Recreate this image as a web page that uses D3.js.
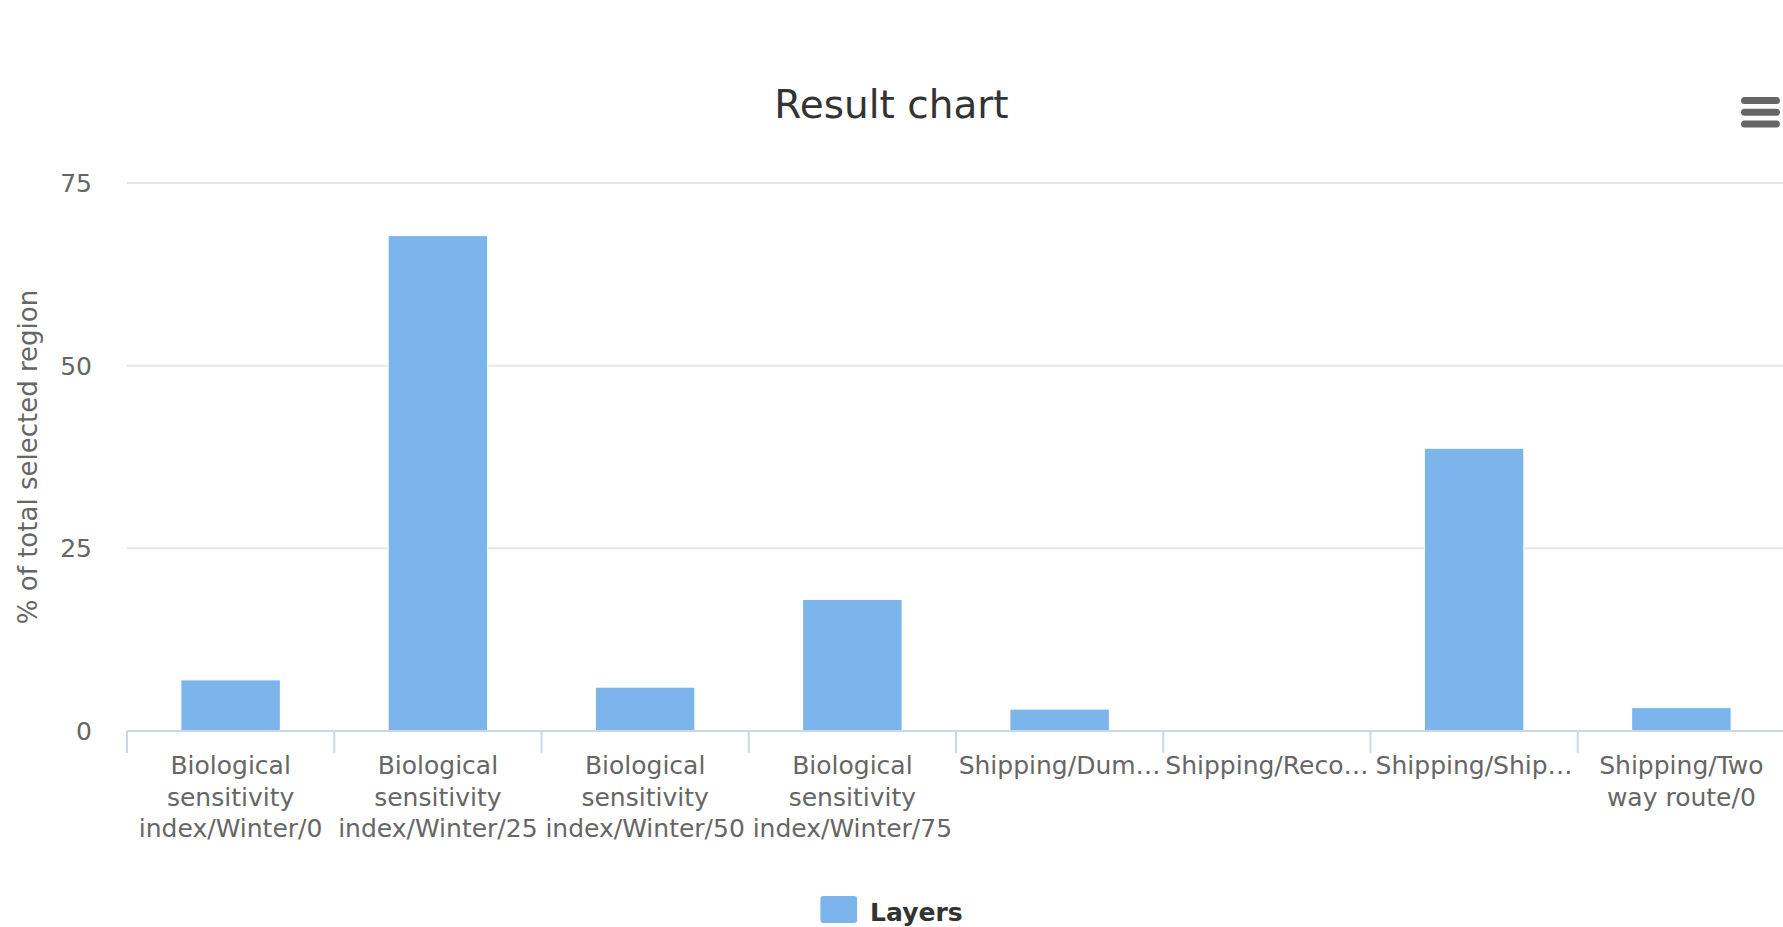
<!DOCTYPE html>
<html>
<head>
<meta charset="utf-8">
<script src="https://cdn.jsdelivr.net/npm/d3@7"></script>
<style>
  body { margin: 0; background: #ffffff; overflow: hidden; }
  text { font-family: "DejaVu Sans", Verdana, sans-serif; }
</style>
</head>
<body>
<svg id="chart" width="1783" height="927"></svg>
<script>
// ---- data ----
const categories = [
  "Biological sensitivity index/Winter/0",
  "Biological sensitivity index/Winter/25",
  "Biological sensitivity index/Winter/50",
  "Biological sensitivity index/Winter/75",
  "Shipping/Dum\u2026",
  "Shipping/Reco\u2026",
  "Shipping/Ship\u2026",
  "Shipping/Two way route/0"
];
const values = [7, 67.8, 6, 18, 3, 0, 38.7, 3.2];
const yTicks = [0, 25, 50, 75];
const seriesName = "Layers";
const chartTitle = "Result chart";
const yAxisTitle = "% of total selected region";

// ---- layout ----
const W = 1783, H = 927;
const plot = { left: 127, right: 1785, top: 183, bottom: 731 };
const barColor = "#7cb5ec";

const svg = d3.select("#chart");

const x = d3.scaleBand()
  .domain(categories)
  .range([plot.left, plot.right])
  .paddingInner(0.52)
  .paddingOuter(0.26);

const y = d3.scaleLinear()
  .domain([0, 75])
  .range([plot.bottom, plot.top]);

// gridlines
svg.append("g").selectAll("line")
  .data(yTicks.filter(d => d !== 0))
  .join("line")
  .attr("x1", plot.left).attr("x2", plot.right)
  .attr("y1", d => y(d)).attr("y2", d => y(d))
  .attr("stroke", "#e6e6e6").attr("stroke-width", 2);

// y tick labels
svg.append("g").selectAll("text")
  .data(yTicks)
  .join("text")
  .attr("x", 92)
  .attr("y", d => y(d) + 9)
  .attr("text-anchor", "end")
  .attr("font-size", 25)
  .attr("fill", "#666666")
  .text(d => d);

// y axis title
svg.append("text")
  .attr("transform", `translate(37,${(plot.top + plot.bottom) / 2}) rotate(-90)`)
  .attr("text-anchor", "middle")
  .attr("font-size", 26)
  .attr("fill", "#666666")
  .text(yAxisTitle);

// bars
svg.append("g").selectAll("rect")
  .data(values)
  .join("rect")
  .attr("x", (d, i) => x(categories[i]))
  .attr("width", x.bandwidth())
  .attr("y", d => y(d))
  .attr("height", d => y(0) - y(d))
  .attr("fill", barColor)
  .attr("stroke", d => d > 0 ? "#ffffff" : "none")
  .attr("stroke-width", 1);

// x axis line
svg.append("line")
  .attr("x1", plot.left).attr("x2", plot.right)
  .attr("y1", y(0)).attr("y2", y(0))
  .attr("stroke", "#ccd6eb").attr("stroke-width", 2);

// x ticks at category boundaries
const step = x.step();
const boundaries = d3.range(categories.length + 1).map(i => plot.left + i * step);
svg.append("g").selectAll("line")
  .data(boundaries)
  .join("line")
  .attr("x1", d => d).attr("x2", d => d)
  .attr("y1", y(0)).attr("y2", y(0) + 22)
  .attr("stroke", "#ccd6eb").attr("stroke-width", 2);

// x labels with wrapping
const labelG = svg.append("g");
categories.forEach((cat, i) => {
  const cx = x(cat) + x.bandwidth() / 2;
  const t = labelG.append("text")
    .attr("text-anchor", "middle")
    .attr("font-size", 25)
    .attr("fill", "#666666");
  const words = cat.split(" ");
  const lines = [];
  let cur = "";
  const probe = labelG.append("text").attr("font-size", 25).attr("visibility", "hidden");
  words.forEach(w => {
    const cand = cur ? cur + " " + w : w;
    probe.text(cand);
    if (cur && probe.node().getComputedTextLength() > step - 2) {
      lines.push(cur);
      cur = w;
    } else {
      cur = cand;
    }
  });
  if (cur) lines.push(cur);
  probe.remove();
  lines.forEach((ln, k) => {
    t.append("tspan")
      .attr("x", cx)
      .attr("y", 774 + k * 31.5)
      .text(ln);
  });
});

// title
svg.append("text")
  .attr("x", W / 2)
  .attr("y", 118)
  .attr("text-anchor", "middle")
  .attr("font-size", 39)
  .attr("fill", "#333333")
  .text(chartTitle);

// context menu icon
svg.append("g").selectAll("line")
  .data([100.5, 112.3, 124])
  .join("line")
  .attr("x1", 1744.5).attr("x2", 1776.5)
  .attr("y1", d => d).attr("y2", d => d)
  .attr("stroke", "#666666")
  .attr("stroke-width", 7)
  .attr("stroke-linecap", "round");

// legend
const legend = svg.append("g");
const legText = legend.append("text")
  .attr("font-size", 25)
  .attr("font-weight", "bold")
  .attr("fill", "#333333")
  .text(seriesName);
const tw = legText.node().getComputedTextLength();
const symW = 36.7, symH = 27, gap = 13;
const total = symW + gap + tw;
const lx = W / 2 - total / 2;
legend.append("rect")
  .attr("x", lx).attr("y", 896)
  .attr("width", symW).attr("height", symH)
  .attr("rx", 3).attr("ry", 3)
  .attr("fill", barColor);
legText.attr("x", lx + symW + gap).attr("y", 921);
</script>
</body>
</html>
